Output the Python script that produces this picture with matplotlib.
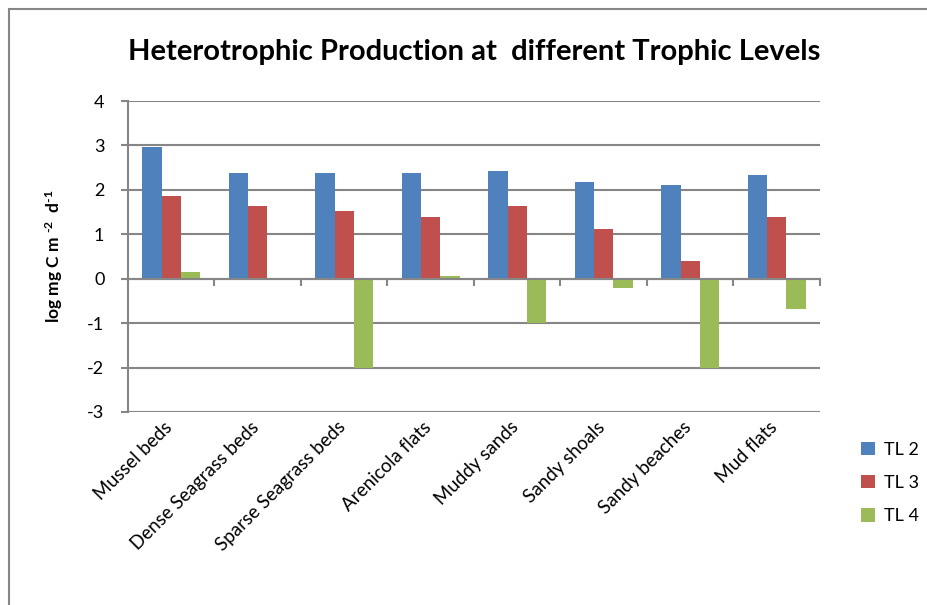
import numpy as np
import matplotlib
import matplotlib.pyplot as plt
from matplotlib.patches import Rectangle

categories = ["Mussel beds", "Dense Seagrass beds", "Sparse Seagrass beds",
              "Arenicola flats", "Muddy sands", "Sandy shoals",
              "Sandy beaches", "Mud flats"]
tl2 = [2.97, 2.39, 2.39, 2.38, 2.42, 2.17, 2.11, 2.34]
tl3 = [1.87, 1.63, 1.52, 1.39, 1.64, 1.13, 0.40, 1.40]
tl4 = [0.15, 0.0, -2.0, 0.07, -1.0, -0.22, -2.0, -0.68]
series_names = ["TL 2", "TL 3", "TL 4"]
y_ticks = [-3, -2, -1, 0, 1, 2, 3, 4]

matplotlib.rcParams['font.family'] = ['Lato', 'DejaVu Sans']
matplotlib.rcParams['mathtext.fontset'] = 'custom'
matplotlib.rcParams['mathtext.bf'] = 'Lato:bold'
matplotlib.rcParams['mathtext.rm'] = 'Lato:bold'
matplotlib.rcParams['mathtext.default'] = 'bf'
grid_col = "#868686"

fig = plt.figure(figsize=(9.28, 6.05), dpi=100)
ax = fig.add_axes([128/928, 1 - 412/605, 692/928, 311/605])

# outer chart border (partly cut off, as in the original)
fig.patches.append(Rectangle((9/928, -0.1), 1.2, 1 - 9/605 + 0.1,
                             transform=fig.transFigure, fill=False,
                             edgecolor=grid_col, linewidth=1.5))

x = np.arange(len(categories))
w = 1 / 4.5
colors = ["#4F81BD", "#C0504D", "#9BBB59"]
for k, (vals, c, name) in enumerate(zip([tl2, tl3, tl4], colors, series_names)):
    ax.bar(x + (k - 1) * w, vals, width=w, color=c, label=name,
           edgecolor="none", zorder=3)

ax.set_xlim(-0.5, len(categories) - 0.5)
ax.set_ylim(-3, 4)
ax.set_yticks(y_ticks)
ax.set_yticklabels([str(v) for v in y_ticks], fontsize=13)
ax.grid(axis='y', color=grid_col, linewidth=1.5, zorder=0)

for s in ['top', 'right']:
    ax.spines[s].set_visible(False)
ax.spines['left'].set_color(grid_col)
ax.spines['left'].set_linewidth(1.5)
ax.spines['bottom'].set_position(('data', 0))
ax.spines['bottom'].set_color(grid_col)
ax.spines['bottom'].set_linewidth(1.5)
ax.spines['bottom'].set_zorder(4)

ax.set_xticks(np.arange(len(categories) + 1) - 0.5)
ax.set_xticklabels([])
ax.tick_params(axis='x', direction='out', length=5, width=1.5, color=grid_col)
ax.tick_params(axis='y', direction='out', length=5, width=1.5, color=grid_col, pad=12)

for i, name in enumerate(categories):
    ax.annotate(name, xy=(i - 0.02, -3), xytext=(0, -9),
                textcoords='offset points', xycoords='data',
                rotation=45, ha='right', va='center', rotation_mode='anchor',
                fontsize=13.5)

ax.set_ylabel(r"log mg C m $^{\text{-2}}$  d$^{\text{-1}}$", fontsize=12.5,
              fontweight='bold', labelpad=16)

fig.text(474/928, 1 - 52/605, "Heterotrophic Production at  different Trophic Levels",
         ha='center', va='center', fontsize=21, fontweight='bold')

ax.legend(loc='upper left', bbox_to_anchor=(861/928, 1 - 442/605),
          bbox_transform=fig.transFigure, frameon=False, fontsize=13,
          handlelength=0.75, handleheight=0.75, handletextpad=0.5,
          labelspacing=0.95, borderaxespad=0, borderpad=0)

plt.savefig("out.png", dpi=100)
